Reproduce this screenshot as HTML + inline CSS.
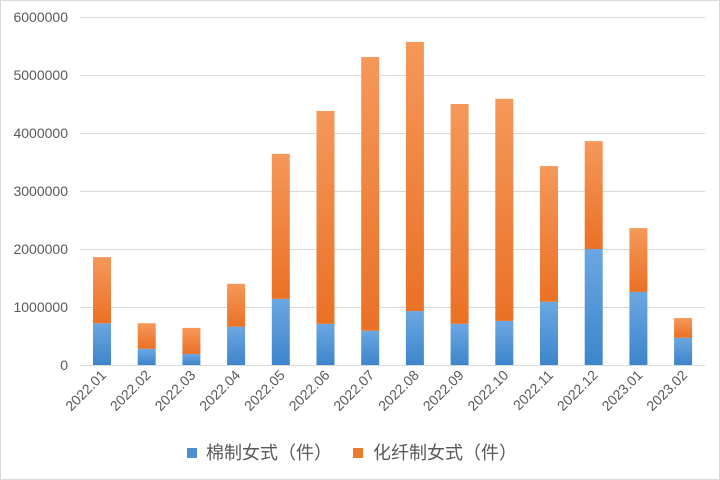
<!DOCTYPE html>
<html><head><meta charset="utf-8"><style>
html,body{margin:0;padding:0;background:#fff;}
svg{display:block;}
text{font-family:"Liberation Sans","Noto Sans CJK SC",sans-serif;fill:#595959;}
</style></head><body>
<svg width="720" height="480" viewBox="0 0 720 480" xmlns="http://www.w3.org/2000/svg">
<defs>
<linearGradient id="b" x1="0" y1="0" x2="0" y2="1"><stop offset="0" stop-color="#6ba7e2"/><stop offset="1" stop-color="#3d85cb"/></linearGradient>
<linearGradient id="o" x1="0" y1="0" x2="0" y2="1"><stop offset="0" stop-color="#f5985a"/><stop offset="1" stop-color="#ea7125"/></linearGradient>
</defs>
<rect x="0.5" y="0.5" width="719" height="479" fill="#fff" stroke="#d9d9d9"/>
<g stroke="#d9d9d9" stroke-width="1">
<line x1="80" y1="17.5" x2="705" y2="17.5"/>
<line x1="80" y1="75.5" x2="705" y2="75.5"/>
<line x1="80" y1="133.5" x2="705" y2="133.5"/>
<line x1="80" y1="191.5" x2="705" y2="191.5"/>
<line x1="80" y1="249.5" x2="705" y2="249.5"/>
<line x1="80" y1="307.5" x2="705" y2="307.5"/>
<line x1="80" y1="365.5" x2="705" y2="365.5"/>
</g>
<g font-size="14" text-anchor="end">
<text x="68" y="22">6000000</text>
<text x="68" y="80">5000000</text>
<text x="68" y="138">4000000</text>
<text x="68" y="196">3000000</text>
<text x="68" y="254">2000000</text>
<text x="68" y="312">1000000</text>
<text x="68" y="370">0</text>
</g>
<g id="bars"></g>
<g id="labels" font-size="14" text-anchor="end"></g>
<rect x="187" y="448" width="10" height="10" fill="#4a8fd4"/>
<text x="206" y="459" font-size="18">棉制女式（件）</text>
<rect x="353" y="448" width="10" height="10" fill="#ee7a30"/>
<text x="373" y="459" font-size="18">化纤制女式（件）</text>
<script>
var d=[["2022.01",0.72,1.86],["2022.02",0.28,0.72],["2022.03",0.19,0.64],["2022.04",0.66,1.40],["2022.05",1.14,3.64],["2022.06",0.71,4.38],["2022.07",0.59,5.31],["2022.08",0.93,5.57],["2022.09",0.71,4.50],["2022.10",0.76,4.59],["2022.11",1.09,3.43],["2022.12",2.0,3.86],["2023.01",1.26,2.36],["2023.02",0.47,0.81]];
var ns="http://www.w3.org/2000/svg",B=document.getElementById("bars"),L=document.getElementById("labels");
function r(x,y,w,h,f){var e=document.createElementNS(ns,"rect");e.setAttribute("x",x);e.setAttribute("y",y);e.setAttribute("width",w);e.setAttribute("height",h);e.setAttribute("fill",f);B.appendChild(e);}
d.forEach(function(v,i){var x=93+i*44.7,yb=365-v[1]*58,yt=365-v[2]*58;
r(x,yb,18,365-yb,"url(#b)");r(x,yt,18,yb-yt,"url(#o)");
var t=document.createElementNS(ns,"text");var cx=x+9+5,cy=376;t.setAttribute("x",cx);t.setAttribute("y",cy);t.setAttribute("transform","rotate(-45 "+cx+" "+cy+")");t.textContent=v[0];L.appendChild(t);});
</script>
</svg>
</body></html>
